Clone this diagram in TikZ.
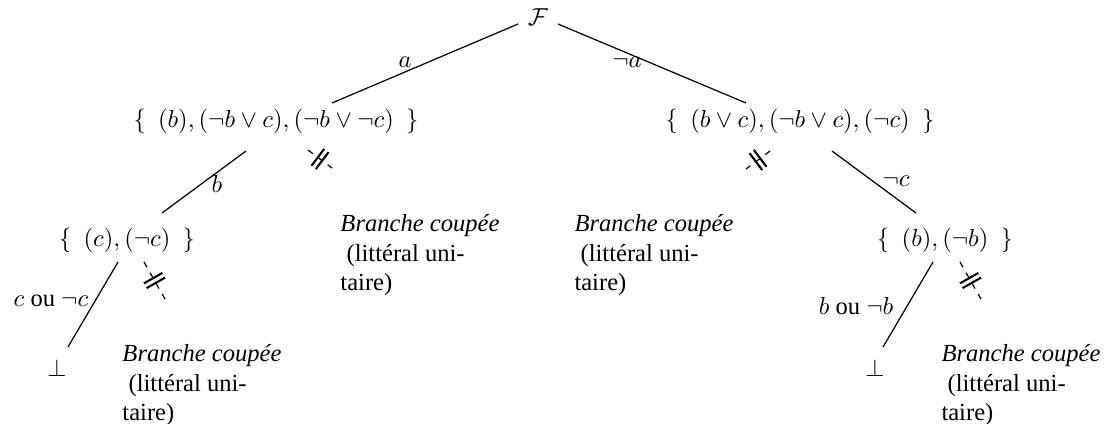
\documentclass[tikz,border=0pt]{standalone}
\usepackage{fontspec}
\setmainfont{Liberation Serif}
\usetikzlibrary{decorations.markings}
\tikzset{
  formula/.style={inner sep=2pt},
  edgelabel/.style={inner sep=1pt},
  cutnote/.style={anchor=north west, align=left, inner sep=0pt},
  branch/.style={line width=0.5pt},
  cutedge/.style={line width=0.5pt, dash pattern=on 2.4pt off 2.6pt,
    postaction={decorate},
    decoration={markings, mark=at position 0.5 with {
      \draw[solid, line width=0.85pt] (-1.1pt,-4.3pt) -- (-1.1pt,4.3pt) (1.1pt,-4.3pt) -- (1.1pt,4.3pt);}}}
}
\begin{document}
\begin{tikzpicture}[x=0.407pt, y=-0.407pt]
\useasboundingbox (0,0) rectangle (1105,423);
% nodes
\node[formula] (F) at (538,17) {$\mathcal{F}$};
\node[formula] (N1) at (276,121) {$\{\enskip (b), (\neg b\vee c), (\neg b\vee\neg c)\enskip\}$};
\node[formula] (N2) at (800,121) {$\{\enskip (b\vee c), (\neg b\vee c), (\neg c)\enskip\}$};
\node[formula] (N11) at (127,240) {$\{\enskip (c), (\neg c)\enskip\}$};
\node[formula] (N22) at (945,240) {$\{\enskip (b), (\neg b)\enskip\}$};
\node[formula] (B1) at (57,368) {$\bot$};
\node[formula] (B2) at (875,368) {$\bot$};
\node[cutnote] (T1) at (340,214) {\textit{Branche coupée}\\\hspace*{2.5pt}(littéral uni-\\taire)};
\node[cutnote] (T2) at (574,214) {\textit{Branche coupée}\\\hspace*{2.5pt}(littéral uni-\\taire)};
\node[cutnote] (T3) at (122,344) {\textit{Branche coupée}\\\hspace*{2.5pt}(littéral uni-\\taire)};
\node[cutnote] (T4) at (941,344) {\textit{Branche coupée}\\\hspace*{2.5pt}(littéral uni-\\taire)};
% edge end points
\coordinate (F-l) at (518,24);
\coordinate (N1-t) at (332,103);
\coordinate (F-r) at (558,24);
\coordinate (N2-t) at (746,103);
\coordinate (N1-b) at (246,151);
\coordinate (N11-t) at (162,213);
\coordinate (N1-c1) at (308,150);
\coordinate (N1-c2) at (332,168);
\coordinate (N2-c1) at (770,151);
\coordinate (N2-c2) at (746,169);
\coordinate (N2-b) at (832,151);
\coordinate (N22-t) at (916,213);
\coordinate (N11-b) at (118,262);
\coordinate (B1-t) at (68,347);
\coordinate (N11-c1) at (144,262);
\coordinate (N11-c2) at (165,299);
\coordinate (N22-b) at (933,262);
\coordinate (B2-t) at (883,347);
\coordinate (N22-c1) at (960,262);
\coordinate (N22-c2) at (981,299);
% branches
\draw[branch] (F-l) -- (N1-t);
\draw[branch] (F-r) -- (N2-t);
\draw[branch] (N1-b) -- (N11-t);
\draw[branch] (N2-b) -- (N22-t);
\draw[branch] (N11-b) -- (B1-t);
\draw[branch] (N22-b) -- (B2-t);
% cut branches
\draw[cutedge] (N1-c1) -- (N1-c2);
\draw[cutedge] (N2-c1) -- (N2-c2);
\draw[cutedge] (N11-c1) -- (N11-c2);
\draw[cutedge] (N22-c1) -- (N22-c2);
% labels
\node[edgelabel] (La) at (405,62) {$a$};
\node[edgelabel] (Lna) at (627,62) {$\neg a$};
\node[edgelabel] (Lb) at (217,184) {$b$};
\node[edgelabel] (Lnc) at (896,181) {$\neg c$};
\node[edgelabel] (Lc) at (51,301) {$c$ ou $\neg c$};
\node[edgelabel] (Lbb) at (856,306) {$b$ ou $\neg b$};
\end{tikzpicture}
\end{document}
